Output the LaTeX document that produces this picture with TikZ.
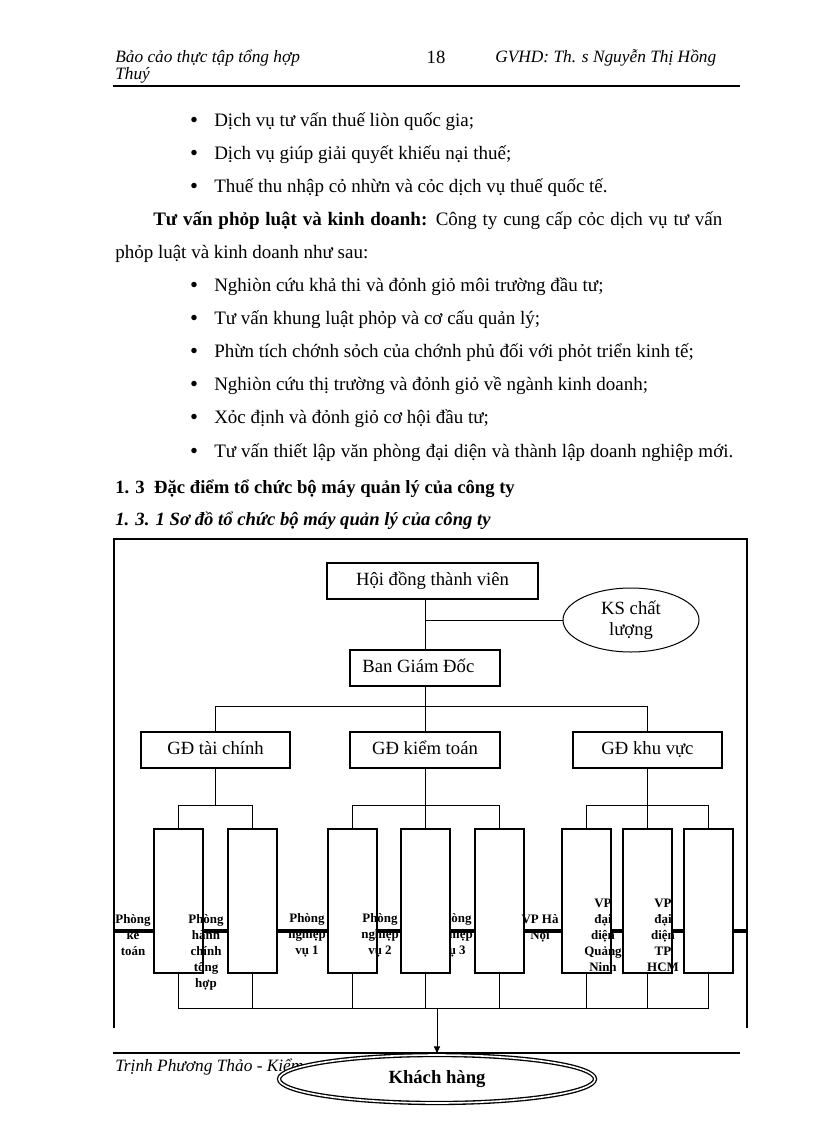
\documentclass[tikz,border=0pt]{standalone}
\usepackage{fontspec}
\setmainfont{Liberation Serif}
\usetikzlibrary{shapes.geometric,arrows.meta,calc}
\begin{document}
\begin{tikzpicture}[x=0.75pt,y=-0.75pt,
  body/.style={anchor=base west, inner sep=0pt, font=\fontsize{14.25}{16}\selectfont},
  bul/.style={anchor=base, inner sep=0pt, font=\fontsize{17}{18}\selectfont},
  hdr/.style={anchor=base west, inner sep=0pt, font=\fontsize{13}{15}\selectfont\itshape},
  obox/.style={draw, line width=1.5pt, fill=white, inner sep=0pt, minimum height=27pt, text height=10pt, text depth=3pt, font=\fontsize{14}{16}\selectfont},
  tallbox/.style={draw, line width=1.5pt, fill=white, inner sep=0pt, minimum width=36.75pt, minimum height=108pt},
  lab/.style={anchor=north, inner sep=0pt, align=center, font=\fontsize{9.7}{12}\selectfont\bfseries},
  conn/.style={line width=0.75pt},
  thickline/.style={line width=2.8pt},
  frameline/.style={line width=1.5pt},
  rule/.style={line width=1.6pt}]
\useasboundingbox (0,0) rectangle (816,1123);

% ---------- header ----------
\node[hdr] (h1) at (115,63) {Bảo cảo thực tập tổng hợp};
\node[hdr] (h2) at (115,80) {Thuý};
\node[anchor=base, inner sep=0pt, font=\fontsize{14}{16}\selectfont] (hpage) at (436,64) {18};
\node[hdr] (h3) at (495,63) {GVHD: Th. s Nguyễn Thị Hồng};
\coordinate (hrl) at (113,86);
\coordinate (hrr) at (740,86);
\draw[rule] (hrl) -- (hrr);

% ---------- body text ----------
\node[bul] (b01) at (194,128) {•};
\node[body] (t01) at (214,127) {Dịch vụ tư vấn thuế liòn quốc gia;};
\node[bul] (b02) at (194,161) {•};
\node[body] (t02) at (214,160) {Dịch vụ giúp giải quyết khiếu nại thuế;};
\node[bul] (b03) at (194,194) {•};
\node[body] (t03) at (214,193) {Thuế thu nhập cỏ nhừn và cỏc dịch vụ thuế quốc tế.};
\node[body] (t04) at (153,226) {\makebox[426.75pt][s]{\bfseries Tư vấn phỏp luật và kinh doanh: \mdseries Công ty cung cấp cỏc dịch vụ tư vấn}};
\node[body] (t05) at (115,258) {phỏp luật và kinh doanh như sau:};
\node[bul] (b06) at (194,292) {•};
\node[body] (t06) at (214,291) {Nghiòn cứu khả thi và đỏnh giỏ môi trường đầu tư;};
\node[bul] (b07) at (194,325) {•};
\node[body] (t07) at (214,324) {Tư vấn khung luật phỏp và cơ cấu quản lý;};
\node[bul] (b08) at (194,358) {•};
\node[body] (t08) at (214,357) {Phừn tích chớnh sỏch của chớnh phủ đối với phỏt triển kinh tế;};
\node[bul] (b09) at (194,391) {•};
\node[body] (t09) at (214,390) {Nghiòn cứu thị trường và đỏnh giỏ về ngành kinh doanh;};
\node[bul] (b10) at (194,424) {•};
\node[body] (t10) at (214,423) {Xỏc định và đỏnh giỏ cơ hội đầu tư;};
\node[bul] (b11) at (194,458) {•};
\node[body] (t11) at (214,457) {\makebox[389.25pt][s]{Tư vấn thiết lập văn phòng đại diện và thành lập doanh nghiệp mới.}};
\node[body, font=\fontsize{14}{16}\selectfont\bfseries] (s1) at (115,493) {1. 3\ \ Đặc điểm tổ chức bộ máy quản lý của công ty};
\node[body, font=\fontsize{14}{16}\selectfont\bfseries\itshape] (s2) at (115,525) {1. 3. 1 Sơ đồ tổ chức bộ máy quản lý của công ty};

% ---------- frame ----------
\coordinate (fbl) at (114,1028);
\coordinate (ftl) at (114,539);
\coordinate (ftr) at (747,539);
\coordinate (fbr) at (747,1028);
\draw[frameline] (fbl) -- (ftl) -- (ftr) -- (fbr);

% ---------- upper boxes ----------
\node[obox, minimum width=158.25pt] (hd) at (432.5,581) {Hội đồng thành viên};
\node[draw, ellipse, line width=0.75pt, fill=white, minimum width=102pt, minimum height=48pt, inner sep=0pt, align=center, font=\fontsize{14}{16}\selectfont] (ks) at (631,620) {KS chất\\lượng};
\node[obox, minimum width=112.5pt] (bgd) at (425,667.5) {Ban Giám Đốc\hspace*{10pt}};
\node[obox, minimum width=111.75pt] (gdtc) at (215.5,750) {GĐ tài chính};
\node[obox, minimum width=112.5pt] (gdkt) at (425,750) {GĐ kiểm toán};
\node[obox, minimum width=111.75pt] (gdkv) at (647.5,750) {GĐ khu vực};

% ---------- label hidden behind a box ----------
\node[lab] (l5) at (454,913) {Phòng\\nghiệp\\vụ 3};

% ---------- tall boxes ----------
\node[tallbox] (p1) at (178.5,901) {};
\node[tallbox] (p2) at (252.5,901) {};
\node[tallbox] (p3) at (352,901) {};
\node[tallbox] (p4) at (425.5,901) {};
\node[tallbox] (p5) at (499,901) {};
\node[tallbox] (p6) at (586,901) {};
\node[tallbox] (p7) at (647.5,901) {};
\node[tallbox] (p8) at (708.5,901) {};

% ---------- labels ----------
\node[lab] (l1) at (133,914) {Phòng\\kế\\toán};
\node[lab] (l2) at (206,914) {Phòng\\hành\\chính\\tổng\\hợp};
\node[lab] (l3) at (307,913) {Phòng\\nghiệp\\vụ 1};
\node[lab] (l4) at (380,913) {Phòng\\nghiệp\\vụ 2};
\node[lab] (l6) at (540,914) {VP Hà\\Nội};
\node[lab] (l7) at (603,899) {VP\\đại\\diện\\Quảng\\Ninh};
\node[lab] (l8) at (663,899) {VP\\đại\\diện\\TP\\HCM};

% ---------- thick line between boxes ----------
\coordinate (tl) at (114,931);
\coordinate (tr) at (747,931);
\draw[thickline] (tl) -- (tl -| p1.west);
\draw[thickline] (p1.east |- tl) -- (p2.west |- tl);
\draw[thickline] (p2.east |- tl) -- (p3.west |- tl);
\draw[thickline] (p3.east |- tl) -- (p4.west |- tl);
\draw[thickline] (p4.east |- tl) -- (p5.west |- tl);
\draw[thickline] (p5.east |- tl) -- (p6.west |- tl);
\draw[thickline] (p6.east |- tl) -- (p7.west |- tl);
\draw[thickline] (p7.east |- tl) -- (p8.west |- tl);
\draw[thickline] (p8.east |- tl) -- (tr);

% ---------- connectors ----------
\draw[conn] (bgd.north |- hd.south) -- (bgd.north);
\coordinate (ksj) at (425,620);
\draw[conn] (ksj) -- (ks.west);
\draw[conn] (bgd.south) -- (gdkt.north);
\coordinate (topbar) at (425,706);
\draw[conn] (gdtc.north) -- (gdtc.north |- topbar) -- (gdkv.north |- topbar) -- (gdkv.north);

\coordinate (br) at (0,805);
\draw[conn] (gdtc.south) -- (gdtc.south |- br);
\draw[conn] (p1.north) -- (p1.north |- br) -- (p2.north |- br) -- (p2.north);
\draw[conn] (gdkt.south) -- (gdkt.south |- br);
\draw[conn] (p3.north) -- (p3.north |- br) -- (p5.north |- br) -- (p5.north);
\draw[conn] (p4.north) -- (p4.north |- br);
\draw[conn] (gdkv.south) -- (gdkv.south |- br);
\draw[conn] (p6.north) -- (p6.north |- br) -- (p8.north |- br) -- (p8.north);
\draw[conn] (p7.north) -- (p7.north |- br);

\coordinate (bb) at (0,1008);
\draw[conn] (p1.south) -- (p1.south |- bb) -- (p8.south |- bb) -- (p8.south);
\draw[conn] (p2.south) -- (p2.south |- bb);
\draw[conn] (p3.south) -- (p3.south |- bb);
\draw[conn] (p4.south) -- (p4.south |- bb);
\draw[conn] (p5.south) -- (p5.south |- bb);
\draw[conn] (p6.south) -- (p6.south |- bb);
\draw[conn] (p7.south) -- (p7.south |- bb);

% ---------- footer ----------
\coordinate (frl) at (113,1053);
\coordinate (frr) at (740,1053);
\draw[rule] (frl) -- (frr);
\node[hdr] (foot) at (115,1071) {Trịnh Phương Thảo - Kiểm};
\node[draw, ellipse, double, double distance=1.2pt, line width=1pt, fill=white, minimum width=237pt, minimum height=36pt, inner sep=0pt, font=\fontsize{14}{16}\selectfont\bfseries] (kh) at (437,1079) {Khách hàng};
\coordinate (arrs) at (437,1008);
\draw[conn, -{Latex[length=6pt,width=5pt]}] (arrs) -- (kh.north);
\end{tikzpicture}
\end{document}
